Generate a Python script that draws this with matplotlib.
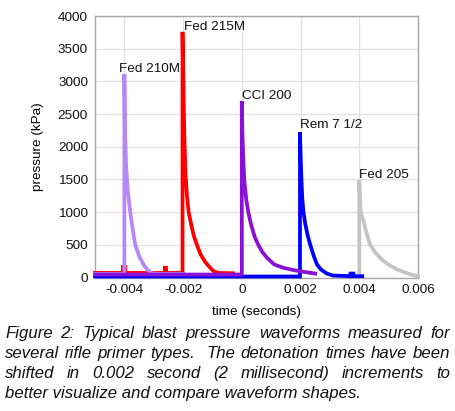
import matplotlib
matplotlib.use("Agg")
import matplotlib.pyplot as plt

# ---------------- data ----------------
fed210_t = [-0.0050, -0.0040, -0.0040, -0.00398, -0.00394, -0.00388, -0.0038, -0.00372, -0.00363,
            -0.00350, -0.00335, -0.00320, -0.00305, -0.0028, -0.0020]
fed210_p = [55, 55, 3110, 2300, 1700, 1300, 1000, 750, 500, 330, 200, 110, 60, 55, 55]

fed215_t = [-0.0050, -0.00405, -0.00405, -0.00397, -0.00397, -0.00262, -0.00262, -0.00258, -0.00258,
            -0.00202, -0.00202, -0.00199, -0.00196, -0.00192, -0.00187, -0.00181, -0.00172,
            -0.00163, -0.00153, -0.00140, -0.00125, -0.00110, -0.00097, -0.00080, -0.0003]
fed215_p = [70, 70, 160, 160, 70, 70, 150, 150, 70,
            70, 3757, 3000, 2200, 1600, 1250, 1000, 800,
            630, 500, 350, 240, 160, 100, 70, 65]

cci200_t = [-0.0050, 0.0, 0.0, 0.00002, 0.00005, 0.00009, 0.00015, 0.00022, 0.00032, 0.00044, 0.00056,
            0.00070, 0.00086, 0.0011, 0.0014, 0.0018, 0.0022, 0.0025]
cci200_p = [45, 45, 2697, 2200, 1800, 1450, 1200, 1000, 800, 620, 500, 390, 300, 200, 150, 110, 80, 60]

rem_t = [-0.0050, 0.00198, 0.00198, 0.00200, 0.00203, 0.00206, 0.00210, 0.00216, 0.00224, 0.00233,
         0.00245, 0.00256, 0.00270, 0.00290, 0.00310, 0.0037, 0.0037, 0.0038, 0.0038, 0.0041]
rem_p = [15, 15, 2224, 1900, 1500, 1200, 1000, 820, 650, 500,
         330, 200, 120, 60, 30, 20, 60, 60, 20, 20]

fed205_t = [0.0040, 0.0040, 0.00402, 0.00405, 0.00410, 0.00415, 0.00422, 0.00437, 0.00455, 0.00475,
            0.00498, 0.00530, 0.00573, 0.0060]
fed205_p = [20, 1490, 1250, 1000, 920, 860, 720, 500, 380, 280, 200, 120, 50, 20]

series_names = ["Fed 205", "Rem 7 1/2", "Fed 215M", "Fed 210M", "CCI 200"]
series_t = [fed205_t, rem_t, fed215_t, fed210_t, cci200_t]
series_p = [fed205_p, rem_p, fed215_p, fed210_p, cci200_p]
series_colors = ["#c4c4c4", "#0000ff", "#ff0000", "#b987f5", "#8a10d8"]

x_ticks = [-0.004, -0.002, 0, 0.002, 0.004, 0.006]
x_ticklabels = ["-0.004", "-0.002", "0", "0.002", "0.004", "0.006"]
y_ticks = [0, 500, 1000, 1500, 2000, 2500, 3000, 3500, 4000]

caption_lines = [
    "Figure 2: Typical blast pressure waveforms measured for",
    "several rifle primer types.  The detonation times have been",
    "shifted in 0.002 second (2 millisecond) increments to",
    "better visualize and compare waveform shapes.",
]

# ---------------- figure ----------------
W, H = 456, 411
fig = plt.figure(figsize=(W / 100, H / 100), dpi=100)
fig.patch.set_facecolor("white")
plt.rcParams["font.family"] = ["Liberation Sans", "DejaVu Sans"]

ax_l, ax_r, ax_t, ax_b = 95, 418, 16, 277.5
ax = fig.add_axes([ax_l / W, 1 - ax_b / H, (ax_r - ax_l) / W, (ax_b - ax_t) / H])

for name, t, p, c in zip(series_names, series_t, series_p, series_colors):
    ax.plot(t, p, color=c, lw=2.7, solid_joinstyle="miter", clip_on=False, zorder=3)

ax.set_xlim(-0.005, 0.006)
ax.set_ylim(0, 4000)
ax.set_xticks(x_ticks)
ax.set_xticklabels(x_ticklabels)
ax.set_yticks(y_ticks)
ax.grid(True, color="#e2e2e2", lw=0.9, zorder=0)
ax.set_axisbelow(True)
ax.tick_params(length=0, labelsize=9.7, pad=5, colors="#111111")
for s in ax.spines.values():
    s.set_color("#a8a8a8")
    s.set_linewidth(1.0)

ax.set_xlabel("time (seconds)", fontsize=9.7, labelpad=7)
ax.set_ylabel("pressure (kPa)", fontsize=9.7, labelpad=10)

# peak labels
label_offsets = {"Fed 210M": (-5, 2), "Fed 215M": (1, 2), "CCI 200": (0, 2),
                 "Rem 7 1/2": (0, 4), "Fed 205": (0, 2)}
for name, t, p in zip(series_names, series_t, series_p):
    k = max(range(len(p)), key=lambda i: p[i])
    dx, dy = label_offsets[name]
    ax.annotate(name, (t[k], p[k]), xytext=(dx * 0.72, dy * 0.72), textcoords="offset points",
                fontsize=9.7, ha="left", va="baseline", color="#111111", zorder=5)

# ---------------- justified italic caption ----------------
cap_left, cap_right = 5, 450
baselines = [338, 358, 378, 398]
cap_size = 12.1
renderer = fig.canvas.get_renderer()
for i, (line, yb) in enumerate(zip(caption_lines, baselines)):
    y = 1 - yb / H
    if i == len(caption_lines) - 1:
        fig.text(cap_left / W, y, line, fontsize=cap_size, style="italic",
                 ha="left", va="baseline", color="#111111")
        continue
    words = line.split(" ")
    txts = [fig.text(0, y, w, fontsize=cap_size, style="italic", ha="left",
                     va="baseline", color="#111111") for w in words]
    widths = [tt.get_window_extent(renderer).width if w else 0.0 for tt, w in zip(txts, words)]
    gap = (cap_right - cap_left - sum(widths)) / (len(words) - 1)
    x = cap_left
    for tt, w in zip(txts, widths):
        tt.set_x(x / W)
        x += w + gap

fig.savefig("out.png", dpi=100, facecolor="white")
